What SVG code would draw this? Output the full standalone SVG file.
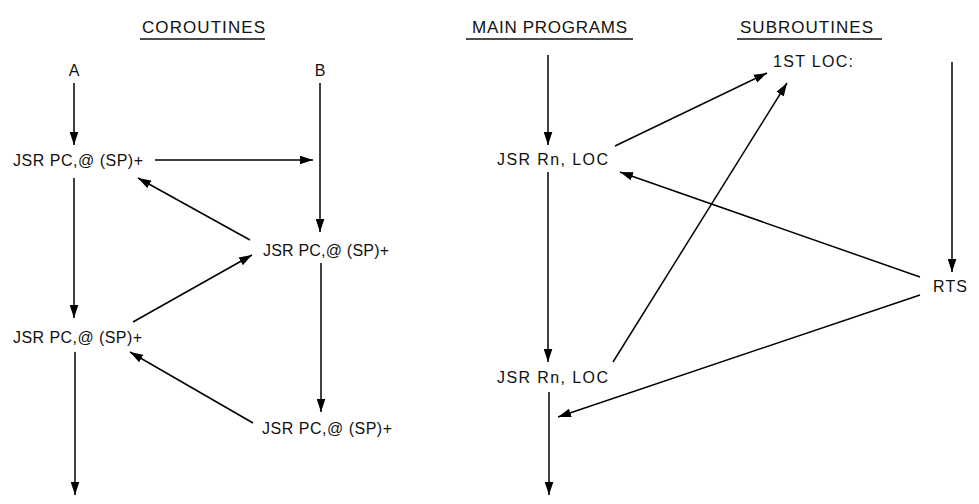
<svg xmlns="http://www.w3.org/2000/svg" width="979" height="504" viewBox="0 0 979 504">
<style>
.t{font-family:"Liberation Sans",Arial,sans-serif;font-size:16px;fill:#111}
.h{font-family:"Liberation Sans",Arial,sans-serif;font-size:17px;fill:#111}
.u{stroke:#111;stroke-width:1.5}
.c line{stroke:#000;stroke-width:1.5;marker-end:url(#ah)}
</style>
<defs>
<marker id="ah" viewBox="0 0 12 8" refX="12" refY="4" markerWidth="13" markerHeight="9" markerUnits="userSpaceOnUse" orient="auto">
<path d="M0,0 L12,4 L0,8 z" fill="#000"/>
</marker>
</defs>
<rect width="979" height="504" fill="#fff"/>
<g id="titles">
<text class="h" x="142" y="33" textLength="123" lengthAdjust="spacing">COROUTINES</text>
<line class="u" x1="140" y1="39" x2="265" y2="39"/>
<text class="h" x="472" y="33" textLength="155" lengthAdjust="spacing">MAIN PROGRAMS</text>
<line class="u" x1="466" y1="39" x2="633" y2="39"/>
<text class="h" x="740" y="33" textLength="133" lengthAdjust="spacing">SUBROUTINES</text>
<line class="u" x1="737" y1="39" x2="882" y2="39"/>
</g>
<g id="A"><text class="t" x="74" y="76" text-anchor="middle">A</text></g>
<g id="B"><text class="t" x="320" y="76" text-anchor="middle">B</text></g>
<g id="a1"><text class="t" x="13" y="166" textLength="130" lengthAdjust="spacing">JSR PC,@ (SP)+</text></g>
<g id="b1"><text class="t" x="263" y="256" textLength="126" lengthAdjust="spacing">JSR PC,@ (SP)+</text></g>
<g id="a2"><text class="t" x="13" y="343" textLength="129" lengthAdjust="spacing">JSR PC,@ (SP)+</text></g>
<g id="b2"><text class="t" x="262" y="434" textLength="130" lengthAdjust="spacing">JSR PC,@ (SP)+</text></g>
<g id="m1"><text class="t" x="497" y="165" textLength="111" lengthAdjust="spacing">JSR Rn, LOC</text></g>
<g id="m2"><text class="t" x="497" y="383" textLength="111" lengthAdjust="spacing">JSR Rn, LOC</text></g>
<g id="loc"><text class="t" x="773" y="67" textLength="80" lengthAdjust="spacing">1ST LOC:</text></g>
<g id="rts"><text class="t" x="933" y="292" textLength="34" lengthAdjust="spacing">RTS</text></g>
<g id="connectors" class="c">
<line x1="74" y1="83" x2="74" y2="145"/>
<line x1="74" y1="178" x2="74" y2="318"/>
<line x1="75" y1="352" x2="75" y2="495"/>
<line x1="155" y1="160" x2="313" y2="160"/>
<line x1="320" y1="83" x2="320" y2="232"/>
<line x1="250" y1="240" x2="138" y2="178"/>
<line x1="133" y1="322" x2="252" y2="255"/>
<line x1="321" y1="263" x2="321" y2="412"/>
<line x1="253" y1="423" x2="130" y2="352"/>
<line x1="548" y1="55" x2="548" y2="145"/>
<line x1="548" y1="172" x2="548" y2="362"/>
<line x1="549" y1="392" x2="549" y2="495"/>
<line x1="615" y1="146" x2="767" y2="73"/>
<line x1="920" y1="277" x2="620" y2="172"/>
<line x1="613" y1="362" x2="787" y2="83"/>
<line x1="952" y1="62" x2="952" y2="272"/>
<line x1="920" y1="295" x2="558" y2="417"/>
</g>
</svg>
